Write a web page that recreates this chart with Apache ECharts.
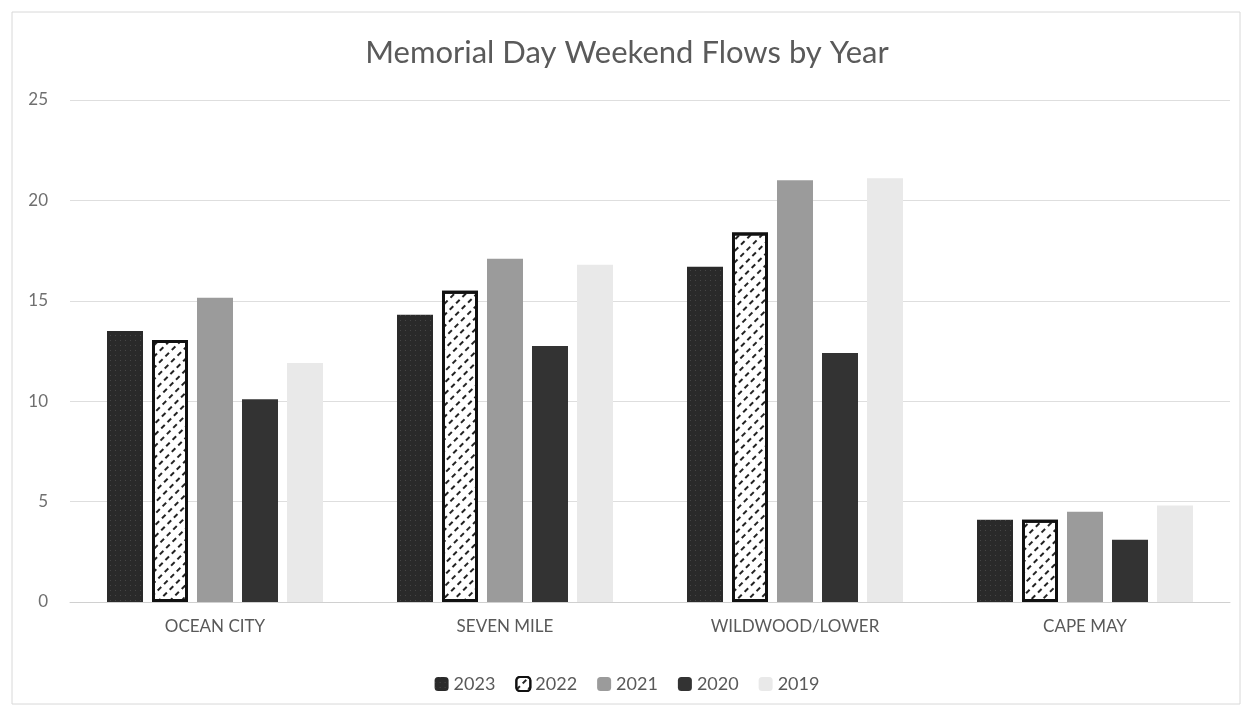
<!DOCTYPE html>
<html>
<head>
<meta charset="utf-8">
<script src="https://cdn.jsdelivr.net/npm/echarts@6/dist/echarts.min.js"></script>
<style>
  html, body { margin: 0; padding: 0; background: #fff; }
  #main { width: 1254px; height: 717px; }
</style>
</head>
<body>
<div id="main"></div>
<script>
var categories = ['OCEAN CITY', 'SEVEN MILE', 'WILDWOOD/LOWER', 'CAPE MAY'];
var years = ['2023', '2022', '2021', '2020', '2019'];
var v2023 = [13.5, 14.3, 16.7, 4.1];
var v2022 = [13.05, 15.5, 18.4, 4.1];
var v2021 = [15.15, 17.1, 21.0, 4.5];
var v2020 = [10.1, 12.75, 12.4, 3.1];
var v2019 = [11.9, 16.8, 21.1, 4.8];

var myChart = echarts.init(document.getElementById('main'));

// styles per year
var styles = {
    '2023': { color: '#2a2a2a', decal: { symbol: 'rect', symbolSize: 0.6, color: 'rgba(255,255,255,0.45)', dashArrayX: [1, 4], dashArrayY: [1, 4] } },
    '2022': { color: '#ffffff', borderColor: '#111', borderWidth: 3,
              decal: { symbol: 'rect', symbolSize: 1, color: '#222', rotation: -Math.PI / 4, dashArrayX: [[5, 4]], dashArrayY: [2, 6] } },
    '2021': { color: '#9b9b9b' },
    '2020': { color: '#333333' },
    '2019': { color: '#e9e9e9' }
};
var values = { '2023': v2023, '2022': v2022, '2021': v2021, '2020': v2020, '2019': v2019 };

var option = {
    animation: false,
    backgroundColor: '#fff',
    title: {
        text: 'Memorial Day Weekend Flows by Year',
        left: 'center',
        top: 32,
        textStyle: { fontFamily: 'Lato', fontWeight: 'normal', fontSize: 31, color: '#5a5a5a' }
    },
    legend: {
        bottom: 19,
        left: 'center',
        itemWidth: 14,
        itemHeight: 14,
        itemGap: 20,
        textStyle: { fontFamily: 'Lato', fontSize: 18, color: '#595959' },
        data: years
    },
    grid: { left: 70, right: 24, top: 100, bottom: 115 },
    xAxis: {
        type: 'category',
        data: categories,
        axisTick: { show: false },
        axisLine: { lineStyle: { color: '#d0d0d0' } },
        axisLabel: { fontFamily: 'Lato', fontSize: 17, color: '#595959', margin: 16 }
    },
    yAxis: {
        type: 'value',
        min: 0,
        max: 25,
        interval: 5,
        axisLine: { show: false },
        axisTick: { show: false },
        splitLine: { lineStyle: { color: '#dedede' } },
        axisLabel: { fontFamily: 'Lato', fontSize: 17, color: '#6f6f6f', margin: 22 }
    },
    series: years.map(function (y) {
        return {
            name: y,
            type: 'bar',
            data: values[y],
            barWidth: 36,
            barGap: '25%',
            itemStyle: styles[y]
        };
    }),
    graphic: [{
        type: 'rect',
        shape: { x: 12, y: 12, width: 1228, height: 692 },
        style: { fill: 'none', stroke: '#d8d8d8', lineWidth: 1 },
        silent: true
    }]
};

myChart.setOption(option);
</script>
</body>
</html>
